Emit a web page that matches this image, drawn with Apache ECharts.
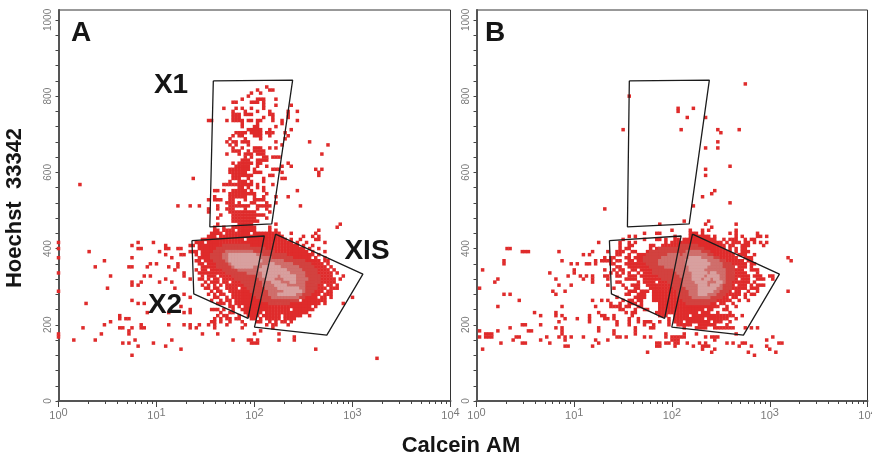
<!DOCTYPE html>
<html><head><meta charset="utf-8"><style>html,body{margin:0;background:#fff}#c{width:872px;height:455px}</style>
<script src="https://cdn.jsdelivr.net/npm/echarts@6/dist/echarts.min.js"></script></head><body><div id="c"></div>
<script>
// Flow cytometer cells: [Hoechst channel, "Calcein channels"]
const aRed=[[103,"68"],[102,"65 69-70"],[101,"63 66"],[100,"62"],[99,"60 65-67 71"],[98,"57-58 63-65 67"],[97,"67 71 76"],[96,"54 58 60 63 67"],[95,"57 61 65 69 75 78"],[94,"57-59 61-63 69-70 75"],[93,"57-59 67 70 75"],[92,"49-50 55 57-60 62-63 65-66 70 73 78"],[91,"60 65 73"],[90,"60 64-65 71"],[89,"62-66 69 76"],[88,"58-61 63-66 68-70 74"],[87,"57 59-60 64-66 69 75"],[86,"56 61 66 74"],[85,"55 57-58 60-62 71 82"],[84,"56 58 62 73 88"],[83,"57 60 64-66 69 71"],[82,"57-59 62 64-67"],[81,"55 59 61-63 65-67 86"],[80,"61 63 67-68 70-72"],[79,"60-62 65-68"],[78,"57 59-63 65-66 75"],[77,"58-62 65 68 73 76"],[76,"56-62 64 70-72 84 86"],[75,"56-61 64-66 73 85"],[74,"57-63 69-70 85"],[73,"44 57-59 62 67 73-74"],[72,"56 59-61 63 67"],[71,"7 54-63 65 70"],[70,"59-60 62 65 67"],[69,"51-52 54 57-61 63 67 78"],[68,"56-64 68"],[67,"51 56-61 64 67 71 75"],[66,"49 51-53 56-57 61 64-67"],[65,"55-57 59 63-64 68 71"],[64,"39 43 46 52 56-62 65-69 79"],[63,"49 52 55-57 61 65 68"],[62,"49 56-64 69"],[61,"53 57-67"],[60,"52 57-64 68"],[59,"57-65"],[58,"52 59-63 71 92"],[57,"51 54 57-64 69 91"],
[56,"51-52 54-57 59-64 69 71 85"],[55,"50-53 55-62 64-72 76 84"],[54,"49-51 53-73 80 83 85"],[53,"47-60 62-74 76 79 84-85"],[52,"0 26 31 45-47 49-76 78 81 87"],[51,"24 35 43-44 46-78 80 83"],[50,"0 26-27 35-36 39-40 46-80 82 85"],[49,"10 33 43-45 47-81 83 87"],[48,"35 40-41 45 47-83 85"],[47,"0 24 37 46-82 84 87"],[46,"15 45-46 48-60 62-85 87-88"],[45,"30 32 39 46-47 49-86 88"],[44,"12 23-24 29 36 39 47-72 74-87 89"],[43,"38 45 47-48 50-56 58-88 90"],[42,"0 41 46-64 66-89 91"],[41,"17 28 30 41 47 49-51 53-80 82-89 93"],[40,"35 43 46-47 49 51-52 54-70 72-90 92"],[39,"24 27 33 37 48 50-52 54-55 57-83 85-90"],[38,"24 26 47 49 51 53 55-76 78-86 88-89 91"],[37,"16 38 48-49 51-52 55-58 60-87 89-91"],[36,"0 50 52-53 56-81 83-86 88-89"],[35,"41 49 51 53-54 57-73 75-85 87-89"],[34,"43 51-52 55 57-69 71-84 86-87 89 96"],[33,"24 50 53 55-56 58-78 80-87"],[32,"9 26 28 52-54 56 58-71 73-85 87 93"],[31,"40 56-57 59 61-82 84"],[30,"43 50-52 54 57 60-75 77-83"],[29,"29 36 41 43 53 56-57 61-66 68-81"],[28,"20 52 54-55 59 62-65 67-72 74-79 82"],[27,"20 22-23 51 53 55-56 58-59 63-64 66 68-72 74-77"],[26,"17 50-51 53 56 60 65-66 69 71 73-74 76"],[25,"15 27 36 41 43 46 49 51 55 61 68 70-71 75"],[24,"8 20-21 24 27-28 43 45 51 60 70"],[23,"23 66"],[22,"0 14 23 47 52 64 72"],[21,"0 77"],[20,"5 12 25 37 57 62-63 65 72 77"],[19,"21 23 31 63-65"],[18,"26 35"],[17,"40 84"],[15,"24"],[14,"104"]];
const aMid=[[51,"54-62"],[50,"52-67"],[49,"51-70"],[48,"50-74"],[47,"50-76"],[46,"51-80"],[45,"52-82"],[44,"52-83"],[43,"54-84"],[42,"55-84"],[41,"57-85"],[40,"58-85"],[39,"60-85"],[38,"61-84"],[37,"62-84"],[36,"63-83"],[35,"64-82"],[34,"65-80"],[33,"67-78"],[32,"69-75"]];
const aSoft=[[49,"55-63"],[48,"54-66"],[47,"54-69"],[46,"55-73"],[45,"56-76"],[44,"57-60 62-78"],[43,"59-79"],[42,"62-80"],[41,"65-80"],[40,"66-81"],[39,"67-80"],[38,"67-80"],[37,"68-80"],[36,"69-80"],[35,"69-79"],[34,"70-78"]];
const aPale=[[48,"56-64"],[47,"56-65"],[46,"56-66"],[45,"57-65 69-70"],[44,"58-63 67-72"],[43,"66-74"],[42,"67-75"],[41,"67-71 73-77"],[40,"68-70 74-77"],[39,"70-72 76-77"],[38,"71-74"],[37,"72-78"],[36,"74-79"],[35,"72-77"]];
const bRed=[[104,"88"],[100,"50"],[96,"66 71"],[95,"66"],[93,"69 75"],[89,"48 67 79 86"],[88,"80"],[85,"79"],[83,"75 79"],[77,"83"],[76,"75"],[74,"75"],[69,"78"],[68,"77"],[67,"74"],[65,"83"],[64,"71"],[63,"42"],[59,"68 76"],[58,"60 75 85"],[57,"77"],[56,"64 70 74 76 85"],[55,"55 59-60 70-72 74 83 85 92"],[54,"50 52 65 70-76 78 85 87 92-93 95"],[53,"48 55 59-60 62 65-66 68-78 81 83-85 88 90-91"],[52,"40 47 50 52 62 64-80 82 84-86 88-89 91 93 95"],[51,"47 50-51 57-58 61-81 83-84 87-89 94"],[50,"10-11 47 49-50 57 59-81 83 85 87-88"],[49,"15-17 27 38 43 46-48 51-52 56-83 85 87-89"],[48,"35 37 46-47 50 53-70 72-84 86-88 91"],[47,"42 44-45 49-50 52-85 88-90 102"],[46,"9 28 39 41-44 46-47 50-51 53-80 82-87 89-90 103"],[45,"9 31 33 36-37 39 44-45 49-88 90-91"],[44,"46-47 50-62 64-84 86-88 90"],[43,"2 32 42 45 47-48 51-52 54-87 90-92"],[42,"24 32 44 46 48 50 53 55-83 85-88 92"],[41,"30 34 36 38 42-43 46-47 50-52 54-89 91-93 96-97"],[40,"7 26 35 38 43 49-52 55-85 87-89 92-94 97"],[39,"6 38 46-47 53 55-58 60-89 91"],[38,"27 31 43 48 51-53 56-84 86-88 90 92-94"],[37,"1 45 49 52-53 57-88 90-92"],[36,"25 29 50-52 54-56 58-83 85-86 89 92 102"],[35,"9 11 26 49-50 53-55 58-86 88 90-91"],[34,"46 52-55 58-82 84-85 88"],[33,"14 38 41 43 48 50-51 53-54 58-83 86 89"],[32,"44 47 50-52 54 60-78 80-81 84"],[31,"7 28 39 44-47 49-50 53-54 60-79 82 85"],[30,"47-48 52 55-56 60-74 76-77 81-82"],[29,"19 26 40 49 51-52 59-72 74-76 79 83"],[28,"21 26 28 37 41-42 45 51 60-62 65-69 71-84 87"],[27,"29 33 37 42-43 45 50 53 63 65-74 76-82 85"],[26,"27 37 46 50 53 55-57 60 63 65-67 69-76 78-80 83"],[25,"15-16 21 46 50 55 58 63 66-70 73-78 82"],[24,"11 26 28 40 52 57-58 68 72-75 78-84 88 90 92"],[23,"1 7 17-18 28 40 45 52"],[22,"3-5 28 45 52 62 68 72 85"],[21,"1 3-5 13-14 23 27 29 31 35 46-47 49 55 57 62 64-68 75 77-79 97"],[20,"12 21 29 39 43 64-66 78 95"],[19,"8 15-16 24 40 59-60 62-63 65-66 69 73 75 82 84 87-88 99-100"],[18,"29-30 38 59-60 65 71 74-76 86 90 95"],[17,"2 74 78 96"],[16,"56 77 89 98"],[15,"91"]];
const bMid=[[51,"67-72"],[50,"60-74"],[49,"57-76"],[48,"56-77"],[47,"55-79"],[46,"55-81"],[45,"56-83"],[44,"57-84"],[43,"58-84"],[42,"58-84"],[41,"60-84"],[40,"61-84"],[39,"63-83"],[38,"64-83"],[37,"65-83"],[36,"66-82"],[35,"66-81"],[34,"67-80"],[33,"68-78"],[32,"69-76"]];
const bSoft=[[49,"69-73"],[48,"63-66 68-75"],[47,"61-77"],[46,"60-79"],[45,"60-80"],[44,"62-80"],[43,"65-81"],[42,"66-81"],[41,"67-81"],[40,"68-81"],[39,"68-81"],[38,"68-80"],[37,"69-80"],[36,"70-79"],[35,"70-78"],[34,"71-76"]];
const bPale=[[47,"70-73"],[46,"69-75"],[45,"69-76"],[44,"70-75"],[43,"70-74"],[42,"71-75 77-78"],[41,"71-74 76-79"],[40,"71-73 75-76 78-79"],[39,"72-75 79-80"],[38,"73-75 77-79"],[37,"73-78"],[36,"73-77"],[35,"73-75"]];
// Gates [Calcein, Hoechst]
const aGateX1=[[38,840],[245,842],[150,465],[35,457],[38,840]];
const aGateX2=[[23,421],[126,433],[86,217],[24,281],[23,421]];
const aGateXIS=[[164,438],[1277,333],[547,173],[100,194],[164,438]];
const bGateX1=[[36.6,840],[241,842],[150,465],[35,457],[36.6,840]];
const bGateX2=[[22.9,421],[124,433],[84,217],[24,281],[22.9,421]];
const bGateXIS=[[162,438],[1256,333],[538,173],[99.5,194],[162,438]];
const xTickMajor=[1,10,100,1000,10000];
const xTickAll=[1,2,3,4,5,6,7,8,9,10,20,30,40,50,60,70,80,90,100,200,300,400,500,600,700,800,900,1000,2000,3000,4000,5000,6000,7000,8000,9000,10000];
const yTickLabels=[0,200,400,600,800,1000];
const yTicks=[0,40,80,120,160,200,240,280,320,360,400,440,480,520,560,600,640,680,720,760,800,840,880,920,960,1000];
const xLabel="Calcein AM", yLabel="Hoechst  33342";

function cells(rows){const out=[];for(const [r,s] of rows){for(const t of s.split(" ")){const p=t.split("-").map(Number);const e=p.length>1?p[1]:p[0];for(let c=p[0];c<=e;c++)out.push([Math.pow(10,c/32),r*8]);}}return out;}
const SIZE=[3.5,3.5];
function layer(data,color,i){return {type:'scatter',xAxisIndex:i,yAxisIndex:i,symbol:'rect',symbolSize:SIZE,data:cells(data),itemStyle:{color:color,opacity:1},silent:true,animation:false,clip:true};}
function gate(data,i){return {type:'line',xAxisIndex:i,yAxisIndex:i,data:data,symbol:'none',lineStyle:{color:'#1c1c1c',width:1.3},silent:true,animation:false,z:5};}
const axisGrey='#7a7a7a';
function xAxis(i){return {type:'log',logBase:10,gridIndex:i,min:1,max:10000,axisLine:{show:true,lineStyle:{color:'#555',width:2}},splitLine:{show:false},minorTick:{show:false},
 axisTick:{show:true,customValues:xTickAll,length:3,lineStyle:{color:'#444',width:1}},
 axisLabel:{customValues:xTickMajor,margin:6,hideOverlap:false,showMaxLabel:true,showMinLabel:true,color:axisGrey,formatter:v=>'{b|10}{s|'+Math.round(Math.log10(v))+'}',rich:{b:{fontSize:11,color:axisGrey,fontFamily:'Liberation Sans'},s:{fontSize:11,color:axisGrey,fontFamily:'Liberation Sans',padding:[0,0,6,0]}}}};}
function xMajor(i){return {type:'log',logBase:10,gridIndex:i,min:1,max:10000,position:'bottom',axisLine:{show:false},splitLine:{show:false},
 axisTick:{show:true,customValues:xTickMajor,length:6,lineStyle:{color:'#444',width:1}},axisLabel:{show:false}};}
function yAxis(i){return {type:'value',gridIndex:i,min:0,max:1026,axisLine:{show:true,lineStyle:{color:'#555',width:2}},splitLine:{show:false},
 axisTick:{show:true,customValues:yTicks,length:3,lineStyle:{color:'#444',width:1}},
 axisLabel:{customValues:yTickLabels,rotate:90,margin:5,fontSize:10,color:axisGrey,fontFamily:'Liberation Sans',formatter:v=>String(v)}};}
function txt(t,x,y,size,rot){return {type:'text',x:x,y:y,rotation:rot||0,style:{text:t,fontFamily:'Liberation Sans',fontWeight:'bold',fontSize:size,fill:'#151515',textAlign:'center',textVerticalAlign:'middle'},silent:true,z:20};}
const chart=echarts.init(document.getElementById('c'),null,{renderer:'canvas'});
const gridBase={top:10,bottom:54,show:true,borderColor:'#333',borderWidth:1,backgroundColor:'#fff',outerBoundsMode:'none'};
chart.setOption({animation:false,backgroundColor:'#fff',
 grid:[Object.assign({left:58.5,right:421.5},gridBase),Object.assign({left:476.5,right:4.5},gridBase)],
 xAxis:[xAxis(0),xAxis(1),xMajor(0),xMajor(1)],yAxis:[yAxis(0),yAxis(1)],
 series:[layer(aRed,'#df2b2b',0),layer(aMid,'#d2423f',0),layer(aSoft,'#cf6f6c',0),layer(aPale,'#d8a09f',0),gate(aGateX1,0),gate(aGateX2,0),gate(aGateXIS,0),
  layer(bRed,'#df2b2b',1),layer(bMid,'#d2423f',1),layer(bSoft,'#cf6f6c',1),layer(bPale,'#d8a09f',1),gate(bGateX1,1),gate(bGateX2,1),gate(bGateXIS,1)],
 graphic:[txt('A',81,33,28),txt('B',495,33,28),txt('X1',171,85,28),txt('X2',165,305,28),txt('XIS',367,251,28),txt(xLabel,461,446,22),txt(yLabel,15,208,22,Math.PI/2)]
});
</script></body></html>
